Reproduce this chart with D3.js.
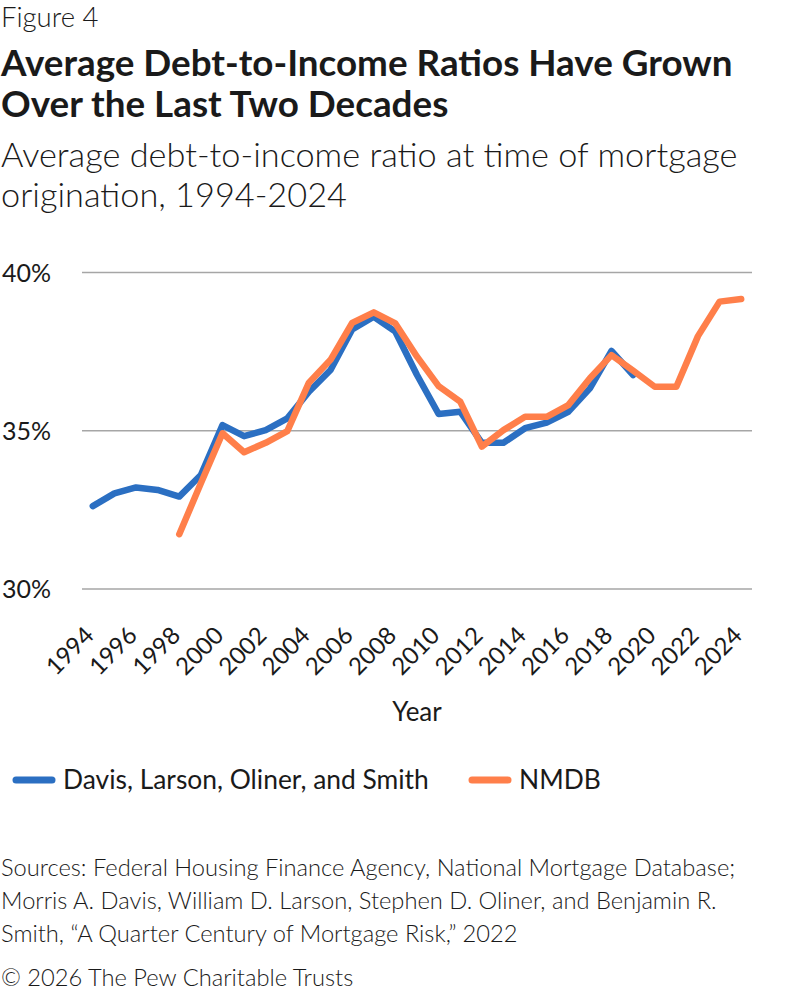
<!DOCTYPE html>
<html>
<head>
<meta charset="utf-8">
<script src="https://cdn.jsdelivr.net/npm/d3@7"></script>
<style>
  body { margin: 0; background: #fff; font-family: Lato, sans-serif; }
  svg text { font-family: Lato, sans-serif; fill: #1a1a1a; }
</style>
</head>
<body>
<svg id="chart" width="792" height="996"></svg>
<script>
// data
var years = d3.range(1994, 2025)
var davisYears = d3.range(1994, 2020)
var davisValues = [32.62, 33.02, 33.21, 33.13, 32.92, 33.6, 35.18, 34.83, 35.02, 35.39,
  36.23, 36.92, 38.2, 38.6, 38.13, 36.76, 35.53, 35.6, 34.62, 34.62,
  35.08, 35.26, 35.6, 36.34, 37.52, 36.76]
var nmdbYears = d3.range(1998, 2025)
var nmdbValues = [31.73, 33.34, 34.92, 34.32, 34.62, 34.99, 36.52, 37.24, 38.41, 38.74,
  38.39, 37.34, 36.41, 35.92, 34.5, 35.02, 35.44, 35.44, 35.81, 36.66,
  37.39, 36.9, 36.39, 36.39, 37.99, 39.08, 39.16]
var yTicks = [30, 35, 40]
var xTicks = d3.range(1994, 2025, 2)
var seriesNames = ["Davis, Larson, Oliner, and Smith", "NMDB"]
var colors = ["#2b6fc2", "#ff7f4a"]

var svg = d3.select("#chart")

// header
svg.append("text").attr("x", 1).attr("y", 27).style("font-size", "27.5px").style("font-weight", 300).text("Figure 4")
svg.append("text").attr("x", 1).attr("y", 76).style("font-size", "36.8px").style("font-weight", "bold")
  .text("Average Debt-to-Income Ratios Have Grown")
svg.append("text").attr("x", 1).attr("y", 117).style("font-size", "36.8px").style("font-weight", "bold")
  .text("Over the Last Two Decades")
svg.append("text").attr("x", 1).attr("y", 167).style("font-size", "34.3px").style("font-weight", 300)
  .text("Average debt-to-income ratio at time of mortgage")
svg.append("text").attr("x", 1).attr("y", 207).style("font-size", "34.3px").style("font-weight", 300)
  .text("origination, 1994-2024")

// scales
var x = d3.scalePoint().domain(years).range([82, 752]).padding(0.5)
var y = d3.scaleLinear().domain([30, 40]).range([589, 272.5])

// grid
svg.append("g").selectAll("line").data(yTicks).join("line")
  .attr("x1", 82).attr("x2", 752)
  .attr("y1", d => y(d)).attr("y2", d => y(d))
  .attr("stroke", "#a6a6a6").attr("stroke-width", 1.5)

svg.append("g").selectAll("text").data(yTicks).join("text")
  .attr("x", 51).attr("y", d => y(d) + 9)
  .attr("text-anchor", "end").style("font-size", "25px")
  .text(d => d + "%")

// x tick labels, rotated
svg.append("g").selectAll("text").data(xTicks).join("text")
  .attr("transform", d => "translate(" + (x(d) + 2.5) + ",637) rotate(-45)")
  .attr("text-anchor", "end").style("font-size", "24px")
  .text(d => d)

svg.append("text").attr("x", 417).attr("y", 721).attr("text-anchor", "middle")
  .style("font-size", "26px").text("Year")

// lines
var line = d3.line().x(d => x(d[0])).y(d => y(d[1]))
var davis = davisYears.map((d, i) => [d, davisValues[i]])
var nmdb = nmdbYears.map((d, i) => [d, nmdbValues[i]])

svg.append("path").datum(davis).attr("d", line)
  .attr("fill", "none").attr("stroke", colors[0]).attr("stroke-width", 6.5)
  .attr("stroke-linejoin", "round").attr("stroke-linecap", "round")
svg.append("path").datum(nmdb).attr("d", line)
  .attr("fill", "none").attr("stroke", colors[1]).attr("stroke-width", 6.5)
  .attr("stroke-linejoin", "round").attr("stroke-linecap", "round")

// legend
var legendX = [16, 472]
var legend = svg.append("g").selectAll("g").data(seriesNames).join("g")
  .attr("transform", (d, i) => "translate(" + legendX[i] + ",780)")
legend.append("line").attr("x1", 0).attr("x2", 36).attr("y1", 0).attr("y2", 0)
  .attr("stroke", (d, i) => colors[i]).attr("stroke-width", 7).attr("stroke-linecap", "round")
legend.append("text").attr("x", 47).attr("y", 9).style("font-size", "26.4px").text(d => d)

// sources
var sources = [
  "Sources: Federal Housing Finance Agency, National Mortgage Database;",
  "Morris A. Davis, William D. Larson, Stephen D. Oliner, and Benjamin R.",
  "Smith, \u201cA Quarter Century of Mortgage Risk,\u201d 2022"
]
svg.append("g").selectAll("text").data(sources).join("text")
  .attr("x", 1).attr("y", (d, i) => 876 + i * 33)
  .style("font-size", "23.7px").style("font-weight", 300)
  .text(d => d)
svg.append("text").attr("x", 1).attr("y", 986).style("font-size", "23.7px").style("font-weight", 300)
  .text("\u00a9 2026 The Pew Charitable Trusts")
</script>
</body>
</html>
